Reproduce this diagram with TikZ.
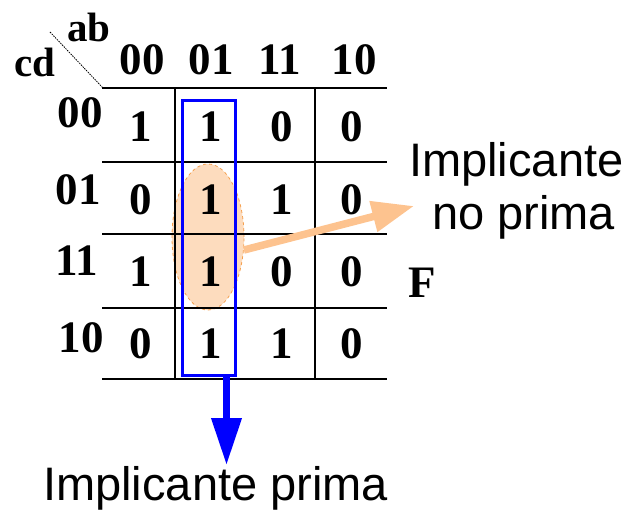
\documentclass[tikz,border=0pt]{standalone}
\usepackage{fontspec}
\setmainfont{Liberation Serif}
\newfontfamily\sansf{Liberation Sans}
\usetikzlibrary{arrows.meta,shapes.geometric}
\definecolor{peach}{HTML}{FDDCBE}
\definecolor{peachline}{HTML}{F5A04F}
\definecolor{orarrow}{HTML}{FDC38F}
\definecolor{kblue}{HTML}{0000FF}
\begin{document}
\begin{tikzpicture}[x=1pt,y=-1pt,
  digit/.style={font=\fontsize{45}{45}\selectfont\bfseries, inner sep=0pt, anchor=base},
  varlbl/.style={font=\fontsize{41}{41}\selectfont\bfseries, inner sep=0pt, anchor=base},
  lbl/.style={font=\fontsize{47}{47}\selectfont\sansf, inner sep=0pt, anchor=base west},
  gridline/.style={line width=1.8pt, black},
]
\useasboundingbox (0,0) rectangle (628,510);
% grouping ellipse (non prime implicant)
\node[ellipse, minimum width=72pt, minimum height=146pt, inner sep=0pt,
      fill=peach, draw=peachline, dashed, line width=0.8pt] (imp) at (208,237) {};
% grid
\foreach \y in {88,162,234,308,379} \draw[gridline] (102,\y) -- (387,\y);
\foreach \x in {175,315} \draw[gridline] (\x,88) -- (\x,379);
\draw[line width=0.8pt, dash pattern=on 1.5pt off 1pt] (50,32) -- (103,88);
% variable labels
\node[varlbl] (ab) at (89,42) {ab};
\node[varlbl] (cd) at (35,77) {cd};
% column headers
\node[digit] (c0) at (142,75) {00};
\node[digit] (c1) at (211,75) {01};
\node[digit] (c2) at (280,75) {11};
\node[digit] (c3) at (354,75) {10};
% row headers
\node[digit] (r0) at (80,128) {00};
\node[digit] (r1) at (78,205) {01};
\node[digit] (r2) at (77,275) {11};
\node[digit] (r3) at (81,352) {10};
% cells
\foreach \b/\vals in {142/{1,1,0,0},215/{0,1,1,0},287/{1,1,0,0},358/{0,1,1,0}}{
  \foreach \v [count=\i] in \vals {
    \pgfmathsetmacro{\cx}{{141,211,282,352}[\i-1]}
    \node[digit] (cell-\b-\i) at (\cx,\b) {\v};
  }
}
% prime implicant box
\node[draw=kblue, line width=3.2pt, minimum width=53pt, minimum height=275pt, inner sep=0pt] (pbox) at (209,238) {};
% arrows
\coordinate (ptip) at (226.5,465);
\draw[kblue, line width=7pt, -{Triangle[length=47pt,width=29pt]}] (ptip |- pbox.south) -- (ptip);
\coordinate (ntip) at (414,206);
\draw[orarrow, line width=7.5pt, -{Triangle[length=42pt,width=30pt]}] (imp.-20) -- (ntip);
% texts
\node[lbl] (t1) at (409,177) {Implicante};
\node[lbl] (t2) at (432,230) {no prima};
\node[digit, anchor=base west] (f) at (408,297) {F};
\node[lbl] (t3) at (43,500) {Implicante prima};
\end{tikzpicture}
\end{document}
